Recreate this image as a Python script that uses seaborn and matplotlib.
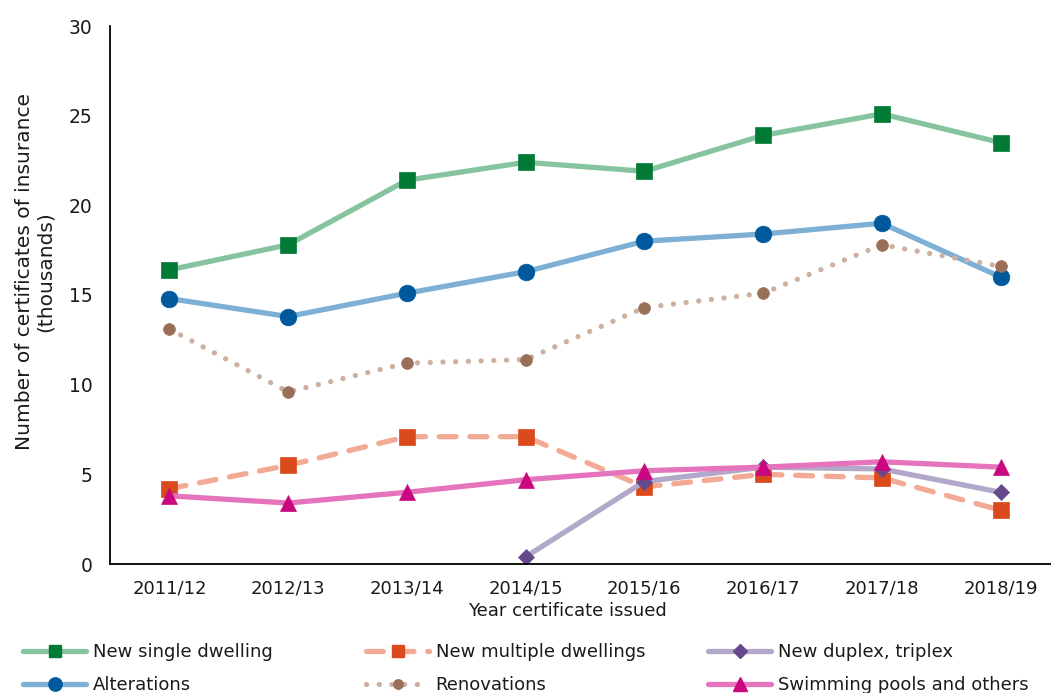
import numpy as np
import pandas as pd
import matplotlib
matplotlib.use("Agg")
import matplotlib.pyplot as plt
import seaborn as sns
from matplotlib.lines import Line2D

# Certificates of insurance issued per year (thousands)
years = ["2011/12", "2012/13", "2013/14", "2014/15", "2015/16", "2016/17", "2017/18", "2018/19"]
new_single = [16.4, 17.8, 21.4, 22.4, 21.9, 23.9, 25.1, 23.5]
new_multiple = [4.2, 5.5, 7.1, 7.1, 4.3, 5.0, 4.8, 3.0]
new_duplex = [np.nan, np.nan, np.nan, 0.4, 4.6, 5.4, 5.3, 4.0]
alterations = [14.8, 13.8, 15.1, 16.3, 18.0, 18.4, 19.0, 16.0]
renovations = [13.1, 9.6, 11.2, 11.4, 14.3, 15.1, 17.8, 16.6]
pools = [3.8, 3.4, 4.0, 4.7, 5.2, 5.4, 5.7, 5.4]

sns.set_style("white")
plt.rcParams["font.family"] = ["DejaVu Sans"]

fig = plt.figure(figsize=(10.51, 6.93), dpi=100)
ax = fig.add_axes([110 / 1051, 1 - 564 / 693, 950 / 1051, 538 / 693])

xpos = np.arange(len(years))

series = [
    # label, values, line colour, marker, marker colour, marker size, linestyle
    ("New single dwelling", new_single, "#85c49f", "s", "#017a36", 11, "-"),
    ("Alterations", alterations, "#7eb0d5", "o", "#00599d", 12, "-"),
    ("Renovations", renovations, "#cdb0a2", "o", "#9a6f57", 8.5, (0, (0.01, 2.4))),
    ("New multiple dwellings", new_multiple, "#f2aa94", "s", "#db4a1c", 11, (0, (3.2, 2.6))),
    ("New duplex, triplex", new_duplex, "#b2a8c9", "D", "#66498a", 8.5, "-"),
    ("Swimming pools and others", pools, "#e574bd", "^", "#c9077f", 12, "-"),
]

handles = {}
for label, vals, lc, mk, mc, ms, ls in series:
    frame = pd.DataFrame({"x": xpos, "y": vals}).dropna()
    sns.lineplot(data=frame, x="x", y="y", ax=ax, color=lc, lw=3.8,
                 linestyle=ls, dash_capstyle="round", solid_capstyle="round",
                 marker=mk, markersize=ms, markerfacecolor=mc, markeredgecolor=mc,
                 markeredgewidth=0.5)
    handles[label] = Line2D([0], [0], color=lc, lw=3.8, linestyle=ls,
                            dash_capstyle="round", solid_capstyle="round",
                            marker=mk, markersize=ms * 0.8,
                            markerfacecolor=mc, markeredgecolor=mc)

ax.set_xlim(-0.5, len(years) - 0.5)
ax.set_ylim(0, 30)
ax.set_yticks([0, 5, 10, 15, 20, 25, 30])
ax.set_xticks(xpos)
ax.set_xticklabels(years, fontsize=13, color="#1a1a1a")
ax.set_xticks(xpos[:-1] + 0.5, minor=True)
ax.tick_params(axis="x", which="major", length=0, pad=11)
ax.tick_params(axis="x", which="minor", length=6, width=1.2, direction="out", color="black")
ax.tick_params(axis="y", length=6, width=1.2, direction="in", color="black",
               labelsize=13.5, labelcolor="#1a1a1a", pad=12.5)

for side in ["top", "right"]:
    ax.spines[side].set_visible(False)
for side in ["left", "bottom"]:
    ax.spines[side].set_color("black")
    ax.spines[side].set_linewidth(1.3)

ax.set_xlabel("Year certificate issued", fontsize=13, color="#1a1a1a")
ax.xaxis.set_label_coords(0.481, -0.07)
ax.set_ylabel("Number of certificates of insurance\n(thousands)", fontsize=14.5,
              color="#1a1a1a", linespacing=1.1)
ax.yaxis.set_label_coords(-0.058, 0.543)

# Legend in three columns of two rows each
columns = [
    (23, ["New single dwelling", "Alterations"]),
    (366, ["New multiple dwellings", "Renovations"]),
    (708, ["New duplex, triplex", "Swimming pools and others"]),
]
for xpix, labels in columns:
    fig.legend([handles[l] for l in labels], labels,
               loc="upper left", bbox_to_anchor=(xpix / 1051, 1 - 643 / 693),
               frameon=False, fontsize=13, handlelength=3.5, handletextpad=0.36,
               borderpad=0, borderaxespad=0, labelspacing=0.85, numpoints=1,
               labelcolor="#1a1a1a")

fig.savefig("out.png", dpi=100)
